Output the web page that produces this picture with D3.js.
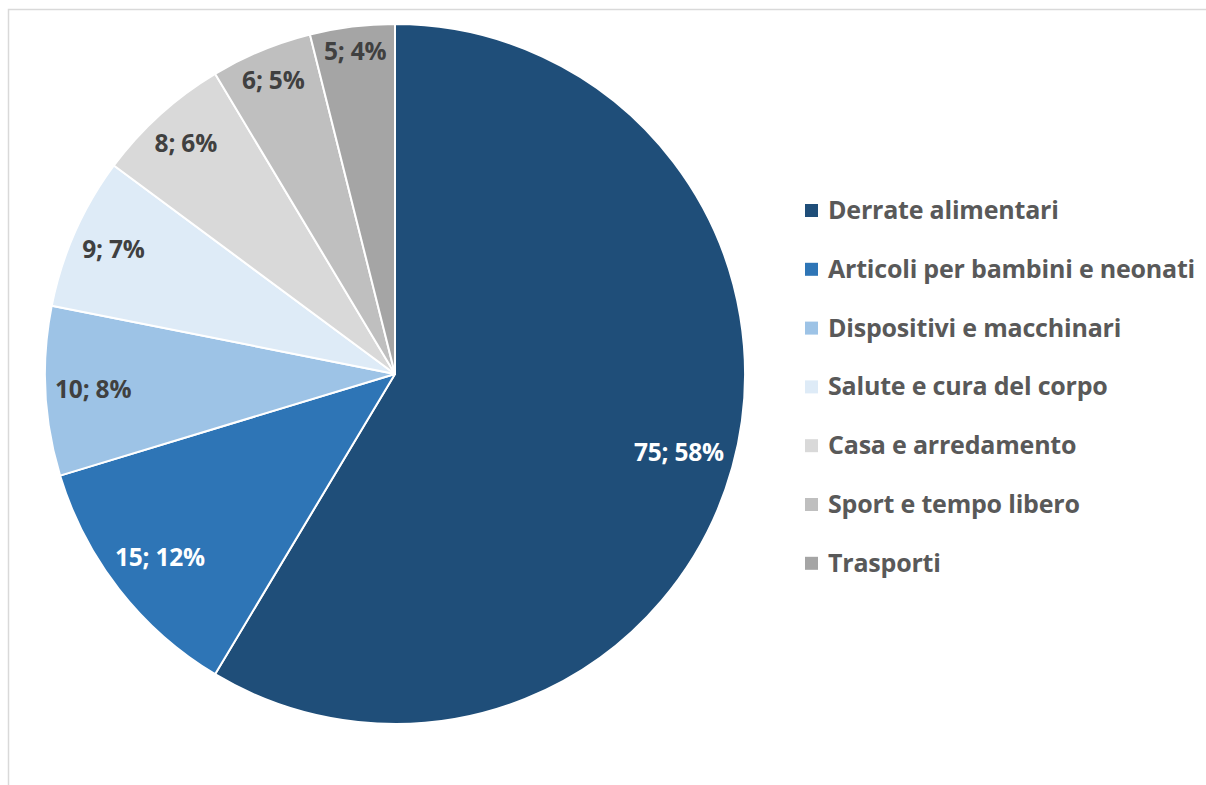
<!DOCTYPE html>
<html>
<head>
<meta charset="utf-8">
<script src="https://cdn.jsdelivr.net/npm/d3@7"></script>
<style>
  html, body { margin: 0; padding: 0; background: #fff; }
  svg { display: block; font-family: "Open Sans", Lato, sans-serif; }
</style>
</head>
<body>
<div id="chart"></div>
<script>
const categories = [
    "Derrate alimentari",
    "Articoli per bambini e neonati",
    "Dispositivi e macchinari",
    "Salute e cura del corpo",
    "Casa e arredamento",
    "Sport e tempo libero",
    "Trasporti"
];
const values = [75, 15, 10, 9, 8, 6, 5];
const shares = [58, 12, 8, 7, 6, 5, 4];
const colors = ["#1f4e79", "#2e75b6", "#9dc3e6", "#deebf7", "#d9d9d9", "#bfbfbf", "#a5a5a5"];
const labelColors = ["#ffffff", "#ffffff", "#404040", "#404040", "#404040", "#404040", "#404040"];

const width = 1206;
const height = 785;
const cx = 395, cy = 374, radius = 350;

const svg = d3.select("#chart")
    .append("svg")
    .attr("width", width)
    .attr("height", height);

// chart frame (only left and top edges are inside the window)
svg.append("rect")
    .attr("x", 8.5).attr("y", 9.5)
    .attr("width", width + 20).attr("height", height + 20)
    .attr("fill", "none")
    .attr("stroke", "#d9d9d9")
    .attr("stroke-width", 1.5);

const data = categories.map((c, i) => ({ name: c, value: values[i], share: shares[i], i }));

const pie = d3.pie().value(d => d.value).sort(null);
const arc = d3.arc().innerRadius(0).outerRadius(radius);
const arcs = pie(data);

const g = svg.append("g").attr("transform", `translate(${cx},${cy})`);

g.selectAll("path.slice")
    .data(arcs)
    .enter().append("path")
    .attr("class", "slice")
    .attr("d", arc)
    .attr("fill", d => colors[d.data.i])
    .attr("stroke", "#fff")
    .attr("stroke-width", 2)
    .attr("stroke-linejoin", "round");

// labels placed "inside end": push out until the box touches the rim
const labels = g.selectAll("text.lbl")
    .data(arcs)
    .enter().append("text")
    .attr("class", "lbl")
    .attr("text-anchor", "middle")
    .attr("dy", "0.36em")
    .attr("font-size", 24.5)
    .attr("font-weight", "bold")
    .attr("letter-spacing", -0.2)
    .attr("fill", d => labelColors[d.data.i])
    .text(d => `${d.data.value}; ${d.data.share}%`);

const limit = radius - 9;
labels.each(function(d) {
    const bb = this.getBBox();
    const a = (d.startAngle + d.endAngle) / 2;
    const dx = Math.sin(a), dy = -Math.cos(a);
    const hw = bb.width / 2, hh = 11;
    const cxs = dx >= 0 ? hw : -hw, cys = dy >= 0 ? hh : -hh;
    // solve |t*d + corner| = limit
    const b = 2 * (dx * cxs + dy * cys);
    const c = cxs * cxs + cys * cys - limit * limit;
    const t = (-b + Math.sqrt(b * b - 4 * c)) / 2;
    d3.select(this).attr("x", t * dx).attr("y", t * dy);
});

// legend
const legend = svg.append("g").attr("transform", "translate(805,210)");
const rowH = 58.8;
const item = legend.selectAll("g.item")
    .data(data)
    .enter().append("g")
    .attr("class", "item")
    .attr("transform", (d, i) => `translate(0,${i * rowH})`);

item.append("rect")
    .attr("x", 0).attr("y", -6)
    .attr("width", 13).attr("height", 13)
    .attr("fill", d => colors[d.i]);

item.append("text")
    .attr("x", 23)
    .attr("dy", "0.36em")
    .attr("font-size", 25)
    .attr("font-weight", "bold")
    .attr("letter-spacing", -0.2)
    .attr("fill", "#595959")
    .text(d => d.name);
</script>
</body>
</html>
